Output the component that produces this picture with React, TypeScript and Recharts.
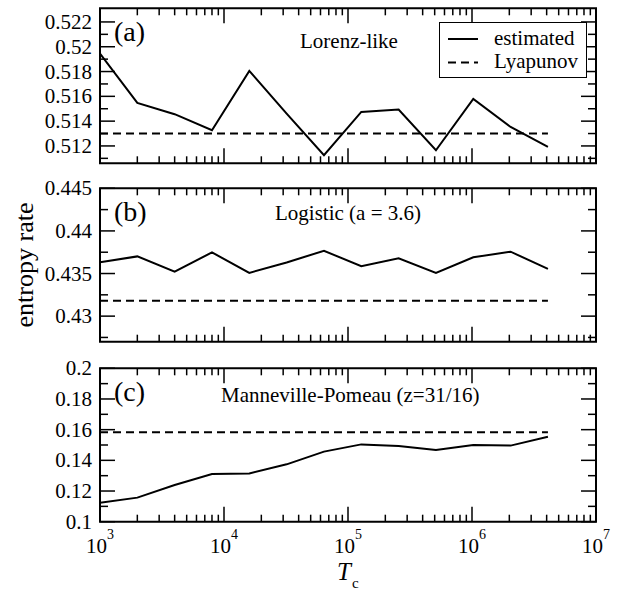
import { LineChart, Line, XAxis, YAxis, ReferenceArea } from 'recharts';

// sampling times T_c (doubling from 10^3)
const tcValues = [1000, 2000, 4000, 8000, 16000, 32000, 64000, 128000, 256000, 512000, 1024000, 2048000, 4096000];

const lorenzEstimated = [0.51945, 0.51547, 0.51456, 0.51327, 0.51805, 0.5146, 0.51125, 0.51474, 0.51493, 0.51165, 0.51579, 0.51353, 0.51192];
const lorenzLyapunov = 0.513;

const logisticEstimated = [0.43631, 0.43701, 0.43523, 0.43748, 0.43508, 0.4363, 0.43767, 0.43585, 0.43678, 0.43508, 0.4369, 0.43756, 0.43555];
const logisticLyapunov = 0.4318;

const mpEstimated = [0.1124, 0.1157, 0.1239, 0.1311, 0.1315, 0.1374, 0.1457, 0.1504, 0.1493, 0.1467, 0.15, 0.1496, 0.1554];
const mpLyapunov = 0.1583;

const xMajorTicks = [1e3, 1e4, 1e5, 1e6, 1e7];
const xTicks = [3, 4, 5, 6]
  .flatMap((d) => [1, 2, 3, 4, 5, 6, 7, 8, 9].map((m) => m * Math.pow(10, d)))
  .concat([1e7]);

const lorenzTicks = [0.511, 0.512, 0.513, 0.514, 0.515, 0.516, 0.517, 0.518, 0.519, 0.52, 0.521, 0.522];
const lorenzLabels = ['0.512', '0.514', '0.516', '0.518', '0.52', '0.522'];
const logisticTicks = [0.4275, 0.43, 0.4325, 0.435, 0.4375, 0.44, 0.4425, 0.445];
const logisticLabels = ['0.43', '0.435', '0.44', '0.445'];
const mpTicks = [0.1, 0.11, 0.12, 0.13, 0.14, 0.15, 0.16, 0.17, 0.18, 0.19, 0.2];
const mpLabels = ['0.1', '0.12', '0.14', '0.16', '0.18', '0.2'];

const FONT = '"Liberation Serif", "DejaVu Serif", serif';
const PLOT_LEFT = 100;
const PLOT_RIGHT = 596;
const PLOT_W = PLOT_RIGHT - PLOT_LEFT;

type PanelProps = {
  top: number;
  height: number;
  plotTop: number;
  plotBottom: number;
  domain: [number, number];
  yTicks: number[];
  yLabels: string[];
  estimated: number[];
  lyapunov: number;
  showXLabels?: boolean;
  tag: string;
  title: string;
  titleX: number;
  titleY: number;
};

const sameValue = (a: number, b: number) => Math.abs(a - b) < 1e-9 * Math.max(1, Math.abs(a));

function Panel(p: PanelProps) {
  const data = tcValues.map((t, i) => ({ t, est: p.estimated[i], lyap: p.lyapunov }));
  const plotH = p.plotBottom - p.plotTop;

  const XTick = (props: any) => {
    const { x, y, payload } = props;
    const v = payload.value as number;
    const isMajor = xMajorTicks.some((m) => sameValue(m, v));
    const len = isMajor ? 15 : 7;
    const exp = Math.round(Math.log10(v));
    return (
      <g>
        <line x1={x} x2={x} y1={y} y2={y - len} stroke="#000" strokeWidth={1.5} />
        <line x1={x} x2={x} y1={y - plotH} y2={y - plotH + len} stroke="#000" strokeWidth={1.5} />
        {p.showXLabels && isMajor && (
          <text x={x} y={y + 31} textAnchor="middle" fontFamily={FONT} fontSize={21} fill="#000">
            <tspan>10</tspan>
            <tspan fontSize={14} dy={-14}>{exp}</tspan>
          </text>
        )}
      </g>
    );
  };

  const YTick = (props: any) => {
    const { x, y, payload } = props;
    const v = payload.value as number;
    const label = p.yLabels.find((l) => sameValue(parseFloat(l), v));
    const len = label ? 15 : 8;
    return (
      <g>
        <line x1={x} x2={x + len} y1={y} y2={y} stroke="#000" strokeWidth={1.5} />
        <line x1={x + PLOT_W} x2={x + PLOT_W - len} y1={y} y2={y} stroke="#000" strokeWidth={1.5} />
        {label && (
          <text x={x - 8} y={y + 7} textAnchor="end" fontFamily={FONT} fontSize={21} fill="#000">
            {label}
          </text>
        )}
      </g>
    );
  };

  return (
    <div style={{ position: 'absolute', left: 0, top: p.top, width: 630, height: p.height }}>
      <LineChart
        width={630}
        height={p.height}
        data={data}
        margin={{
          top: p.plotTop - p.top,
          bottom: p.top + p.height - p.plotBottom - 1,
          left: PLOT_LEFT - 1,
          right: 630 - PLOT_RIGHT,
        }}
      >
        <XAxis
          dataKey="t"
          type="number"
          scale="log"
          domain={[1e3, 1e7]}
          allowDataOverflow
          ticks={xTicks}
          interval={0}
          height={1}
          tickSize={0}
          tickMargin={0}
          axisLine={false}
          tickLine={false}
          tick={<XTick />}
        />
        <YAxis
          type="number"
          domain={p.domain}
          allowDataOverflow
          ticks={p.yTicks}
          interval={0}
          width={1}
          tickSize={0}
          tickMargin={0}
          axisLine={false}
          tickLine={false}
          tick={<YTick />}
        />
        <ReferenceArea
          x1={1e3}
          x2={1e7}
          y1={p.domain[0]}
          y2={p.domain[1]}
          fill="none"
          stroke="#000"
          strokeWidth={2}
          ifOverflow="visible"
        />
        <Line
          dataKey="est"
          name="estimated"
          stroke="#000"
          strokeWidth={2}
          dot={false}
          type="linear"
          isAnimationActive={false}
        />
        <Line
          dataKey="lyap"
          name="Lyapunov"
          stroke="#000"
          strokeWidth={2}
          strokeDasharray="8 5"
          dot={false}
          type="linear"
          isAnimationActive={false}
        />
      </LineChart>
      <div
        style={{
          position: 'absolute',
          left: 114,
          top: p.plotTop - p.top + 8,
          fontFamily: FONT,
          fontSize: 28,
          lineHeight: '32px',
        }}
      >
        {p.tag}
      </div>
      <div
        style={{
          position: 'absolute',
          left: p.titleX,
          top: p.titleY - p.top - 12,
          fontFamily: FONT,
          fontSize: 21,
          lineHeight: '24px',
          whiteSpace: 'nowrap',
        }}
      >
        {p.title}
      </div>
    </div>
  );
}

function LegendBox() {
  return (
    <div
      style={{
        position: 'absolute',
        left: 439,
        top: 22,
        width: 146,
        height: 54,
        border: '1.5px solid #000',
        background: '#fff',
        fontFamily: FONT,
        fontSize: 21,
      }}
    >
      <svg width={40} height={54} style={{ position: 'absolute', left: 0, top: 0 }}>
        <line x1={8} x2={38} y1={16} y2={16} stroke="#000" strokeWidth={2} />
        <line x1={8} x2={38} y1={39.5} y2={39.5} stroke="#000" strokeWidth={2} strokeDasharray="8 5" />
      </svg>
      <div style={{ position: 'absolute', left: 54, top: 3, lineHeight: '24px' }}>estimated</div>
      <div style={{ position: 'absolute', left: 54, top: 26, lineHeight: '24px' }}>Lyapunov</div>
    </div>
  );
}

export default function App() {
  return (
    <div style={{ position: 'absolute', left: 0, top: 0, width: 630, height: 591, background: '#fff' }}>
      <Panel
        top={0}
        height={172}
        plotTop={8.3}
        plotBottom={163.3}
        domain={[0.5106, 0.5231]}
        yTicks={lorenzTicks}
        yLabels={lorenzLabels}
        estimated={lorenzEstimated}
        lyapunov={lorenzLyapunov}
        tag="(a)"
        title="Lorenz-like"
        titleX={300}
        titleY={41}
      />
      <LegendBox />
      <Panel
        top={172}
        height={180}
        plotTop={188.3}
        plotBottom={341.7}
        domain={[0.427, 0.445]}
        yTicks={logisticTicks}
        yLabels={logisticLabels}
        estimated={logisticEstimated}
        lyapunov={logisticLyapunov}
        tag="(b)"
        title="Logistic (a = 3.6)"
        titleX={275}
        titleY={213}
      />
      <Panel
        top={352}
        height={239}
        plotTop={368.3}
        plotBottom={521.7}
        domain={[0.1, 0.2]}
        yTicks={mpTicks}
        yLabels={mpLabels}
        estimated={mpEstimated}
        lyapunov={mpLyapunov}
        showXLabels
        tag="(c)"
        title="Manneville-Pomeau (z=31/16)"
        titleX={221}
        titleY={395}
      />
      <div
        style={{
          position: 'absolute',
          left: 25,
          top: 265,
          transform: 'translate(-50%, -50%) rotate(-90deg)',
          fontFamily: FONT,
          fontSize: 26,
          whiteSpace: 'nowrap',
          lineHeight: '30px',
        }}
      >
        entropy rate
      </div>
      <div
        style={{
          position: 'absolute',
          left: 337,
          top: 558,
          fontFamily: FONT,
          fontSize: 25,
          fontStyle: 'italic',
          lineHeight: '28px',
          whiteSpace: 'nowrap',
        }}
      >
        T<span style={{ fontStyle: 'normal', fontSize: 15, position: 'relative', top: 8, left: 1 }}>c</span>
      </div>
    </div>
  );
}
